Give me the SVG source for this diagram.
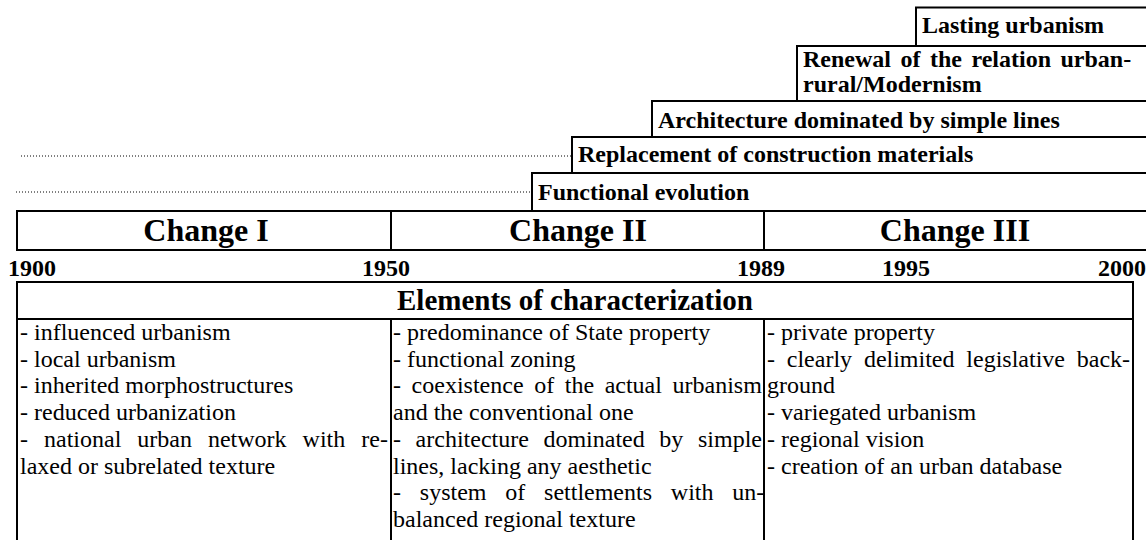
<svg xmlns="http://www.w3.org/2000/svg" width="1146" height="540" viewBox="0 0 1146 540">
  <style>
    .ln { stroke: #000; stroke-width: 2; fill: none; }
    .dot { stroke: #000; stroke-width: 1; stroke-dasharray: 1 2; fill: none; }
    .lbl { font-family: "Liberation Serif", "Times New Roman", serif; font-weight: bold; font-size: 24px; fill: #000; }
    .chg { font-family: "Liberation Serif", "Times New Roman", serif; font-weight: bold; font-size: 32px; fill: #000; text-anchor: middle; }
    .yr { font-family: "Liberation Serif", "Times New Roman", serif; font-weight: bold; font-size: 24px; fill: #000; }
    .hd { font-family: "Liberation Serif", "Times New Roman", serif; font-weight: bold; font-size: 29px; fill: #000; text-anchor: middle; }
    .tx { font-family: "Liberation Serif", "Times New Roman", serif; font-size: 24px; fill: #000; }
  </style>
  <rect width="1146" height="540" fill="#fff"/>

  <g id="connectors">
    <line class="dot" x1="21" y1="156" x2="572" y2="156"/>
    <line class="dot" x1="16" y1="192" x2="532" y2="192"/>
  </g>

  <g id="lasting-urbanism">
    <path class="ln" d="M916,46 V7.5 H1146"/>
    <text class="lbl" x="922" y="33">Lasting urbanism</text>
  </g>

  <g id="renewal">
    <path class="ln" d="M797,101 V46 H1146"/>
    <text class="lbl" x="803" y="67" word-spacing="3.5">Renewal of the relation urban-</text>
    <text class="lbl" x="803" y="92">rural/Modernism</text>
  </g>

  <g id="architecture">
    <path class="ln" d="M652,137 V101 H1146"/>
    <text class="lbl" x="658" y="128">Architecture dominated by simple lines</text>
  </g>

  <g id="replacement">
    <path class="ln" d="M572,173 V137 H1146"/>
    <text class="lbl" x="578" y="162">Replacement of construction materials</text>
  </g>

  <g id="functional">
    <path class="ln" d="M532,211 V173 H1146"/>
    <text class="lbl" x="538" y="200">Functional evolution</text>
  </g>

  <g id="changes">
    <path class="ln" d="M1146,211 H17 V250 H1146"/>
    <line class="ln" x1="391" y1="211" x2="391" y2="250"/>
    <line class="ln" x1="764" y1="211" x2="764" y2="250"/>
    <text class="chg" x="206" y="241">Change I</text>
    <text class="chg" x="578" y="241">Change II</text>
    <text class="chg" x="955" y="241">Change III</text>
  </g>

  <g id="years">
    <text class="yr" x="8" y="276">1900</text>
    <text class="yr" x="362" y="276">1950</text>
    <text class="yr" x="737" y="276">1989</text>
    <text class="yr" x="882" y="276">1995</text>
    <text class="yr" x="1098" y="276">2000</text>
  </g>

  <g id="elements">
    <path class="ln" d="M17,541 V282 H1133 V541"/>
    <line class="ln" x1="17" y1="319" x2="1133" y2="319"/>
    <line class="ln" x1="391" y1="319" x2="391" y2="541"/>
    <line class="ln" x1="764" y1="319" x2="764" y2="541"/>
    <text class="hd" x="575" y="310">Elements of characterization</text>
  </g>

  <g id="column-1">
    <text class="tx" x="20" y="340">- influenced urbanism</text>
    <text class="tx" x="20" y="366.7">- local urbanism</text>
    <text class="tx" x="20" y="393.4">- inherited morphostructures</text>
    <text class="tx" x="20" y="420.1">- reduced urbanization</text>
    <text class="tx" x="20" y="446.8" word-spacing="10">- national urban network with re-</text>
    <text class="tx" x="20" y="473.5">laxed or subrelated texture</text>
  </g>

  <g id="column-2">
    <text class="tx" x="393" y="340">- predominance of State property</text>
    <text class="tx" x="393" y="366.7">- functional zoning</text>
    <text class="tx" x="393" y="393.4" word-spacing="4.6">- coexistence of the actual urbanism</text>
    <text class="tx" x="393" y="420.1">and the conventional one</text>
    <text class="tx" x="393" y="446.8" word-spacing="8.6">- architecture dominated by simple</text>
    <text class="tx" x="393" y="473.5">lines, lacking any aesthetic</text>
    <text class="tx" x="393" y="500.2" word-spacing="12.8">- system of settlements with un-</text>
    <text class="tx" x="393" y="526.9">balanced regional texture</text>
  </g>

  <g id="column-3">
    <text class="tx" x="767" y="340">- private property</text>
    <text class="tx" x="767" y="366.7" word-spacing="5.8">- clearly delimited legislative back-</text>
    <text class="tx" x="767" y="393.4">ground</text>
    <text class="tx" x="767" y="420.1">- variegated urbanism</text>
    <text class="tx" x="767" y="446.8">- regional vision</text>
    <text class="tx" x="767" y="473.5">- creation of an urban database</text>
  </g>
</svg>
